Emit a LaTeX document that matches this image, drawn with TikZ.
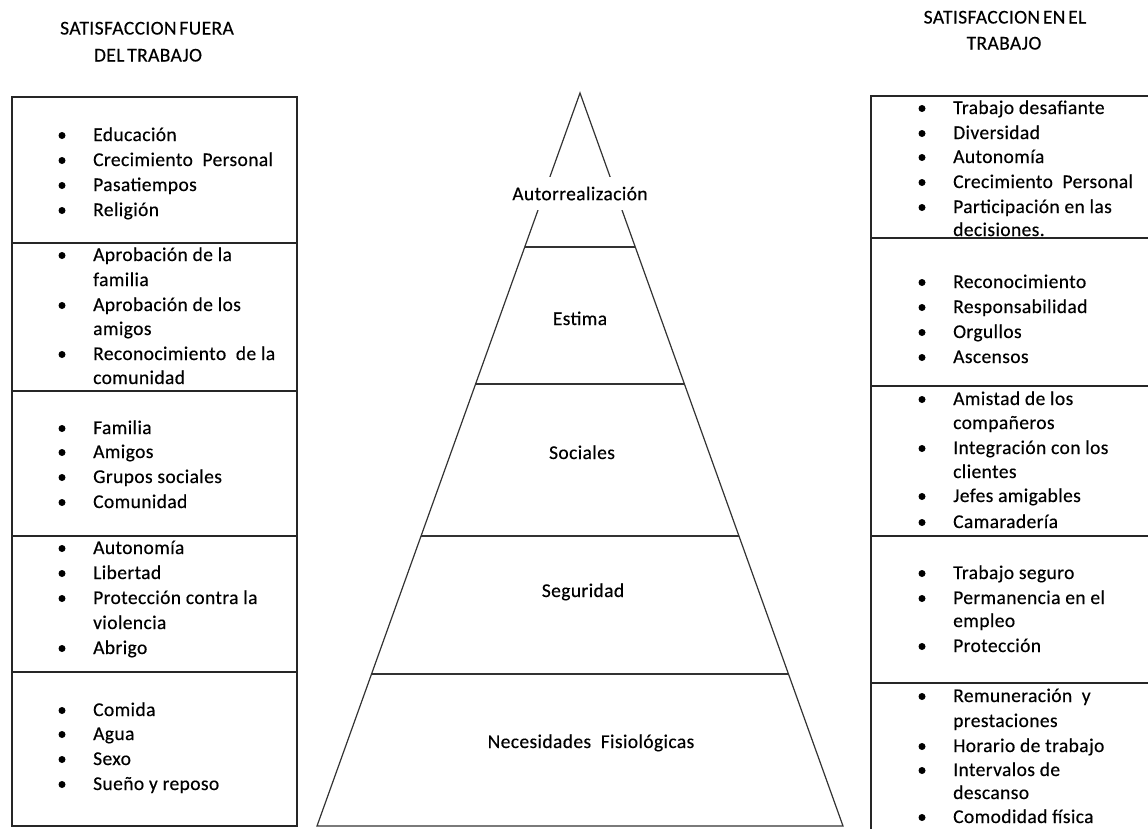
\documentclass[tikz,border=0pt]{standalone}
\usepackage{fontspec}
\setmainfont{Carlito}[LetterSpace=2,FakeBold=0.35]
\usetikzlibrary{calc}
\newcommand\itemlist[4]{%
  \foreach \yy/\ff/\ttext [count=\i] in {#4}{%
    \node[txt] (#1-\i) at (#3,\yy+6) {\ttext};
    \ifnum\ff=1 \node[bul] (#1-b\i) at (#2,\yy+0.5) {};\fi
  }}
\begin{document}
\begin{tikzpicture}[x=1pt,y=-1pt,
  fnt/.style={font=\fontsize{19.5}{25}\selectfont},
  txt/.style={fnt,inner sep=0pt,anchor=base west},
  bul/.style={circle,fill=black,inner sep=0pt,minimum size=7pt},
  ttl/.style={fnt,inner sep=0pt,anchor=base},
  lvl/.style={fnt,inner sep=0pt,anchor=base},
  boxline/.style={line width=1.7pt,black!85},
  pyr/.style={line width=1.2pt,black!80}]
\useasboundingbox (0,0) rectangle (1148,828);
\clip (0,0) rectangle (1148,828);
\fill[white] (0,0) rectangle (1148,828);

% titles
\node[ttl] (tl1) at (147,34.5) {SATISFACCION\hspace{-2pt} FUERA};
\node[ttl] (tl2) at (148,61.5) {DEL\hspace{-2pt} TRABAJO};
\node[ttl] (tr1) at (1005,23.5) {SATISFACCION\hspace{-2pt} EN\hspace{-2pt} EL};
\node[ttl] (tr2) at (1004,49.5) {TRABAJO};

% left column boxes
\draw[boxline] (12,97) rectangle (297,826);
\foreach \yy in {243,391,536,672} \draw[boxline] (12,\yy) -- (297,\yy);

% right column boxes
\draw[boxline] (1152,96) -- (871,96) -- (871,832);
\foreach \yy in {238,386,536,683} \draw[boxline] (871,\yy) -- (1152,\yy);

% left lists
\itemlist{L1}{62}{93}{135/1/Educación,160/1/Crecimiento\ \ Personal,185/1/Pasatiempos,210/1/Religión}
\itemlist{L2}{62}{93}{255/1/Aprobación de la,280/0/familia,305/1/Aprobación de los,329/0/amigos,354/1/Reconocimiento\ \ de la,378/0/comunidad}
\itemlist{L3}{62}{93}{428/1/Familia,452/1/Amigos,477/1/Grupos sociales,502/1/Comunidad}
\itemlist{L4}{62}{93}{548/1/Autonomía,573/1/Libertad,598/1/Protección\ contra la,623/0/violencia,648/1/Abrigo}
\itemlist{L5}{62}{93}{710/1/Comida,734/1/Agua,759/1/Sexo,784/1/Sueño y reposo}

% right lists
\itemlist{R1}{922}{953}{108/1/Trabajo desafiante,133/1/Diversidad,157/1/Autonomía,182/1/Crecimiento\ \ Personal,207/1/Participación\ en las,230/0/decisiones.}
\itemlist{R2}{922}{953}{282/1/Reconocimiento,307/1/Responsabilidad,332/1/Orgullos,357/1/Ascensos}
\itemlist{R3}{922}{953}{399/1/Amistad de los,423/0/compañeros,448/1/Integración con los,472/0/clientes,496/1/Jefes amigables,522/1/Camaradería}
\itemlist{R4}{922}{953}{573/1/Trabajo seguro,598/1/Permanencia en el,621/0/empleo,646/1/Protección}
\itemlist{R5}{922}{953}{696/1/Remuneración\ \ y,721/0/prestaciones,746/1/Horario de trabajo,770/1/Intervalos de,793/0/descanso,817/1/Comodidad física}

% pyramid
\coordinate (A) at (580,93);
\coordinate (BL) at (317,826);
\coordinate (BR) at (843,826);
\draw[pyr] (BL) -- (A) -- (BR) -- cycle;
\foreach \f in {0.2101,0.3970,0.6044,0.7926}
  \draw[pyr] ($(A)!\f!(BL)$) -- ($(A)!\f!(BR)$);

\node[fnt,fill=white,inner xsep=4pt,minimum height=33pt] (p1) at (580,193.5) {Autorrealización};
\node[lvl] (p2) at (580,325) {Estima};
\node[lvl] (p3) at (582,459) {Sociales};
\node[lvl] (p4) at (583,597) {Seguridad};
\node[lvl] (p5) at (591,748) {Necesidades\ \ Fisiológicas};
\end{tikzpicture}
\end{document}
